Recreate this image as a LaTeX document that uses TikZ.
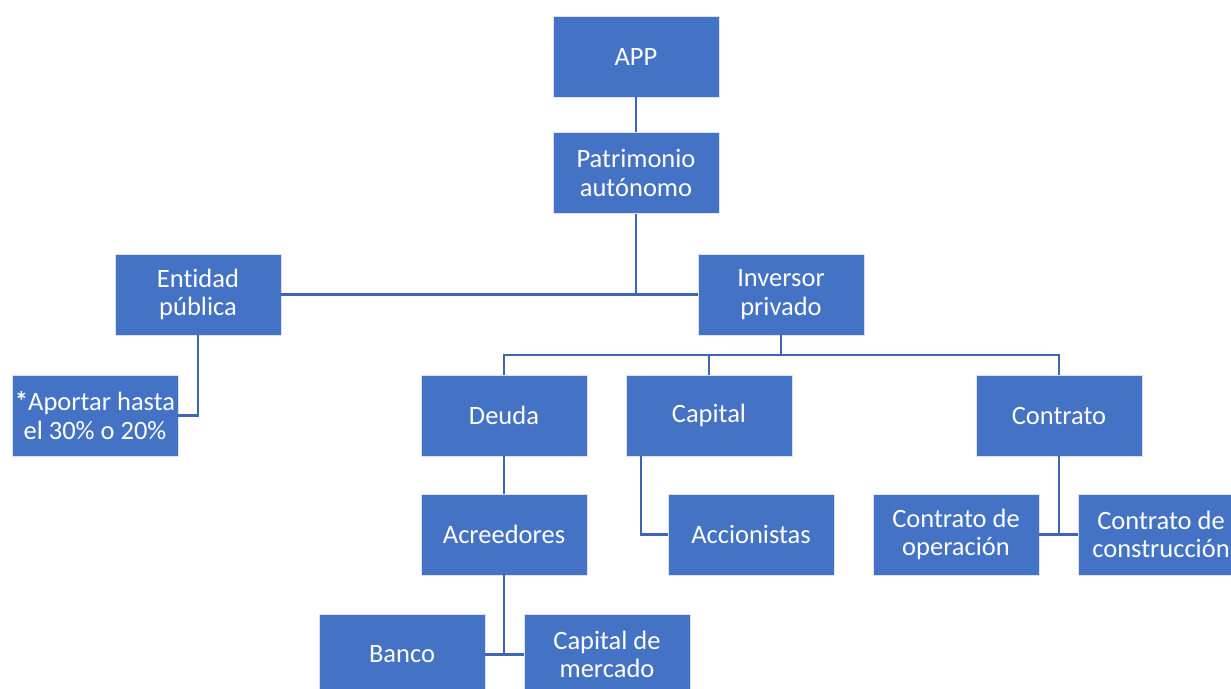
\documentclass[tikz,border=0pt]{standalone}
\usepackage{fontspec}
\setmainfont[Ligatures=NoCommon]{Carlito}
\definecolor{boxblue}{HTML}{4472C4}
\definecolor{lineblue}{HTML}{3F66B5}
\begin{document}
\begin{tikzpicture}[x=1pt,y=-1pt,
  caja/.style={draw=white!80!boxblue,line width=0.6pt,fill=boxblue,text=white,
    minimum width=166pt,minimum height=81pt,align=center,inner sep=2pt,
    font=\fontsize{26.5}{28.5}\selectfont},
  linea/.style={draw=lineblue,line width=2.3pt}]
\useasboundingbox (0,0) rectangle (1231,688);
\clip (0,0) rectangle (1231,688);
\node[caja] (app) at (636,56.5) {APP};
\node[caja] (patrimonio) at (636,173) {Patrimonio\\aut\'onomo};
\node[caja] (entidad) at (198,294.5) {Entidad\\p\'ublica};
\node[caja] (inversor) at (781,294.5) {Inversor\\privado};
\node[caja] (aportar) at (95,415.5) {\textbf{*}Aportar hasta\\el 30\% o 20\%};
\node[caja] (deuda) at (504,415.5) {Deuda};
\node[caja] (capital) at (709,415.5) {Capital};
\node[caja] (contrato) at (1059,415.5) {Contrato};
\node[caja] (acreedores) at (504,534.5) {Acreedores};
\node[caja] (accionistas) at (751,534.5) {Accionistas};
\node[caja] (operacion) at (956,534.5) {Contrato de\\operaci\'on};
\node[caja] (construccion) at (1161,534.5) {Contrato de\\construcci\'on};
\node[caja] (banco) at (402,654.5) {Banco};
\node[caja] (mercado) at (607,654.5) {Capital de\\mercado};
\coordinate (bus) at (781,355);
% conectores
\draw[linea] (app) -- (patrimonio);
\draw[linea] (entidad.east) -- (inversor.west);
\draw[linea] (patrimonio.south) -- (patrimonio.south |- entidad.east);
\draw[linea] (entidad.south) |- (aportar.east);
\draw[linea] (inversor.south) -- (bus);
\draw[linea] (deuda.north) |- (bus) -| (contrato.north);
\draw[linea] (capital.north) -- (capital.north |- bus);
\draw[linea] (deuda) -- (acreedores);
\draw[linea] ([xshift=15pt]capital.south west) |- (accionistas.west);
\draw[linea] (operacion.east) -- (construccion.west);
\draw[linea] (contrato.south) -- (contrato.south |- operacion.east);
\draw[linea] (banco.east) -- (mercado.west);
\draw[linea] (acreedores.south) -- (acreedores.south |- banco.east);
\end{tikzpicture}
\end{document}
